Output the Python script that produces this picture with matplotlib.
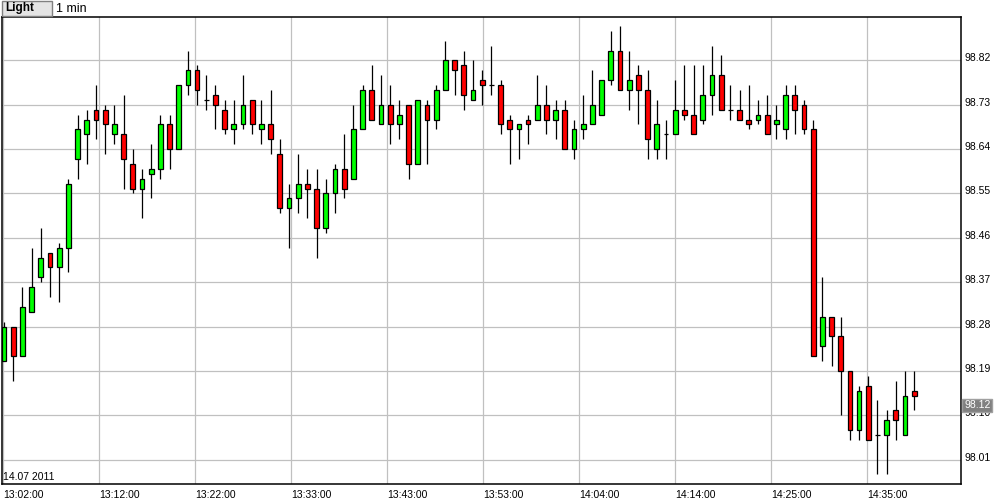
import matplotlib
matplotlib.use("Agg")
import matplotlib.pyplot as plt
import matplotlib.transforms as mtransforms
from matplotlib.patches import Rectangle
import numpy as np

# 1-minute OHLC candles, 14.07.2011
opens = [98.21, 98.28, 98.22, 98.31, 98.38, 98.43, 98.40, 98.44, 98.62, 98.67,
         98.72, 98.72, 98.67, 98.67, 98.61, 98.56, 98.59, 98.60, 98.69, 98.64,
         98.77, 98.80, 98.74, 98.75, 98.72, 98.68, 98.69, 98.74, 98.68, 98.69,
         98.63, 98.52, 98.54, 98.57, 98.56, 98.48, 98.55, 98.60, 98.58, 98.68,
         98.76, 98.69, 98.73, 98.69, 98.73, 98.61, 98.73, 98.70, 98.76, 98.82,
         98.81, 98.74, 98.78, 98.77, 98.77, 98.70, 98.68, 98.70, 98.70, 98.73,
         98.70, 98.72, 98.64, 98.68, 98.69, 98.71, 98.78, 98.84, 98.76, 98.79,
         98.76, 98.64, 98.67, 98.67, 98.72, 98.71, 98.70, 98.75, 98.79, 98.72,
         98.72, 98.70, 98.70, 98.71, 98.69, 98.68, 98.75, 98.73, 98.68, 98.24,
         98.30, 98.26, 98.19, 98.07, 98.16, 98.06, 98.06, 98.11, 98.06, 98.15]
highs = [98.29, 98.28, 98.36, 98.44, 98.48, 98.43, 98.45, 98.58, 98.71, 98.72,
         98.77, 98.73, 98.73, 98.75, 98.64, 98.60, 98.65, 98.71, 98.71, 98.77,
         98.84, 98.81, 98.79, 98.77, 98.74, 98.74, 98.79, 98.74, 98.74, 98.76,
         98.66, 98.57, 98.63, 98.60, 98.60, 98.58, 98.61, 98.67, 98.73, 98.77,
         98.81, 98.79, 98.77, 98.74, 98.73, 98.74, 98.74, 98.77, 98.86, 98.82,
         98.84, 98.82, 98.80, 98.85, 98.78, 98.71, 98.69, 98.71, 98.79, 98.77,
         98.74, 98.74, 98.70, 98.75, 98.80, 98.78, 98.88, 98.89, 98.84, 98.81,
         98.80, 98.74, 98.70, 98.78, 98.81, 98.81, 98.81, 98.85, 98.83, 98.77,
         98.76, 98.77, 98.74, 98.75, 98.73, 98.77, 98.77, 98.74, 98.70, 98.38,
         98.30, 98.30, 98.19, 98.16, 98.18, 98.13, 98.11, 98.17, 98.19, 98.19]
lows = [98.21, 98.17, 98.22, 98.31, 98.37, 98.34, 98.33, 98.39, 98.58, 98.61,
        98.66, 98.63, 98.65, 98.56, 98.55, 98.50, 98.54, 98.58, 98.60, 98.64,
        98.75, 98.73, 98.72, 98.68, 98.67, 98.65, 98.68, 98.67, 98.65, 98.63,
        98.51, 98.44, 98.51, 98.50, 98.42, 98.47, 98.51, 98.54, 98.58, 98.68,
        98.70, 98.69, 98.65, 98.66, 98.58, 98.61, 98.61, 98.68, 98.76, 98.75,
        98.72, 98.74, 98.73, 98.75, 98.67, 98.61, 98.62, 98.65, 98.70, 98.67,
        98.66, 98.64, 98.62, 98.66, 98.69, 98.71, 98.77, 98.76, 98.72, 98.69,
        98.62, 98.62, 98.62, 98.67, 98.70, 98.67, 98.69, 98.71, 98.72, 98.70,
        98.70, 98.68, 98.69, 98.67, 98.66, 98.66, 98.67, 98.67, 98.22, 98.21,
        98.20, 98.10, 98.05, 98.05, 98.05, 97.98, 97.98, 98.05, 98.06, 98.11]
closes = [98.28, 98.22, 98.32, 98.36, 98.42, 98.40, 98.44, 98.57, 98.68, 98.70,
          98.70, 98.69, 98.69, 98.62, 98.56, 98.58, 98.60, 98.69, 98.64, 98.77,
          98.80, 98.76, 98.74, 98.73, 98.68, 98.69, 98.73, 98.69, 98.69, 98.66,
          98.52, 98.54, 98.57, 98.56, 98.48, 98.55, 98.60, 98.56, 98.68, 98.76,
          98.70, 98.73, 98.69, 98.71, 98.61, 98.74, 98.70, 98.76, 98.82, 98.80,
          98.75, 98.76, 98.77, 98.77, 98.69, 98.68, 98.69, 98.69, 98.73, 98.70,
          98.72, 98.64, 98.68, 98.69, 98.73, 98.78, 98.84, 98.76, 98.78, 98.76,
          98.66, 98.69, 98.67, 98.72, 98.71, 98.67, 98.75, 98.79, 98.72, 98.72,
          98.70, 98.69, 98.71, 98.67, 98.70, 98.75, 98.72, 98.68, 98.22, 98.30,
          98.26, 98.19, 98.07, 98.15, 98.05, 98.06, 98.09, 98.09, 98.14, 98.14]

time_labels = ["13:02:00", "13:12:00", "13:22:00", "13:33:00", "13:43:00",
               "13:53:00", "14:04:00", "14:14:00", "14:25:00", "14:35:00"]
price_ticks = [98.01, 98.10, 98.19, 98.28, 98.37, 98.46, 98.55, 98.64, 98.73, 98.82]
last_price = 98.12

plt.rcParams['font.family'] = ['Liberation Sans', 'DejaVu Sans']

fig = plt.figure(figsize=(10.04, 5.01), dpi=100)
ax = fig.add_axes([2 / 1004, 17 / 501, 958.7 / 1004, 467 / 501])

x = np.arange(len(opens))
o = np.array(opens)
h = np.array(highs)
l = np.array(lows)
c = np.array(closes)

colors = np.where(c > o, '#00FF00', '#FF0000')
bottoms = np.minimum(o, c)
heights = np.abs(c - o)

ax.vlines(x, l, h, color='black', linewidth=0.9, zorder=2)
ax.bar(x, heights, bottom=bottoms, width=0.52, color=colors,
       edgecolor='black', linewidth=0.9, zorder=3)

ax.set_xlim(-0.22, 104.05)
ax.set_ylim(97.9606, 98.908)

# grid
tick_pos = np.arange(len(time_labels)) * 10.44 - 0.08
ax.set_xticks(tick_pos)
ax.set_xticklabels(time_labels, fontsize=7.5, ha='left')
ax.set_yticks(price_ticks)
ax.set_yticklabels([f"{p:.2f}" for p in price_ticks], fontsize=7.5)
ax.yaxis.tick_right()
ax.tick_params(axis='both', length=0, colors='black')
ax.tick_params(axis='y', pad=3)
ax.tick_params(axis='x', pad=4)
ax.grid(True, color='#C0C0C0', linewidth=0.9, zorder=0)
ax.set_axisbelow(True)

up = mtransforms.ScaledTranslation(0, 3 / 100, fig.dpi_scale_trans)
for lab in ax.get_yticklabels():
    lab.set_transform(lab.get_transform() + up)

for s in ax.spines.values():
    s.set_color('black')
    s.set_linewidth(1.1)

# last price marker on the right scale
ax.text(1.0035, last_price, f"{last_price:.2f}", transform=ax.get_yaxis_transform(),
        fontsize=7.5, color='white', va='center', ha='left', zorder=5,
        bbox=dict(boxstyle='square,pad=0.15', facecolor='#808080', edgecolor='#A0A0A0'),
        clip_on=False)

# date in the lower left corner
ax.text(0.0015, 0.004, "14.07 2011", transform=ax.transAxes, fontsize=7.5,
        ha='left', va='bottom')

# header: "Light" button and interval
fig.patches.append(Rectangle((2 / 1004, 1 - 16 / 501), 50 / 1004, 15 / 501,
                             transform=fig.transFigure, facecolor='#E4E4E4',
                             edgecolor='#808080', linewidth=1))
fig.text(5 / 1004, 1 - 8.5 / 501, "Light", fontsize=8.5, fontweight='bold',
         va='center', ha='left')
fig.text(56 / 1004, 1 - 8.5 / 501, "1 min", fontsize=9, va='center', ha='left')

fig.savefig("out.png", dpi=100)
